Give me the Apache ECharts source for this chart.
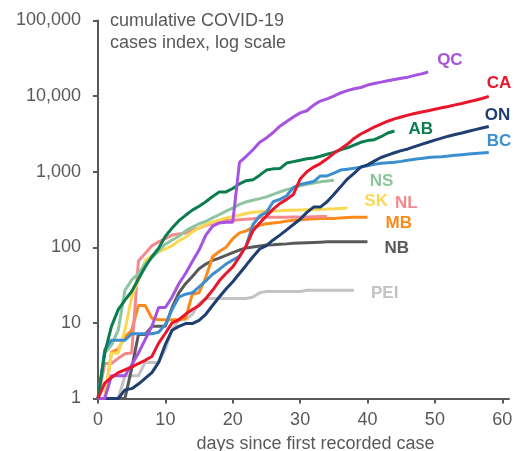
<!DOCTYPE html>
<html><head><meta charset="utf-8">
<script src="https://cdn.jsdelivr.net/npm/echarts@6/dist/echarts.min.js"></script>
<style>html,body{margin:0;padding:0;background:#fff}#c{width:517px;height:451px}</style>
</head><body><div id="c"></div>
<script>
// tick labels
const xTicks = [0, 10, 20, 30, 40, 50, 60];
const yTicks = [1, 10, 100, 1000, 10000, 100000];

// series: cumulative cases index by day since first recorded case
const QC = [1,1,2,2,2,2.8,4,6,9,16,16,22,33,45,65,92,145,190,210,215,215,1330,1600,1950,2450,2800,3300,4000,4600,5300,6000,6400,7600,8600,9200,10000,11000,11800,12500,13000,14000,14700,15300,16000,16600,17200,17800,18800,19700,20800];
const CA = [1,1.6,1.9,2.2,2.4,2.6,2.9,3.2,3.6,5.4,7.3,10,11,13,15,17,21,27,36,45,55,75,105,165,210,260,320,380,430,500,800,1000,1150,1280,1480,1750,2000,2300,2750,3150,3500,3900,4250,4650,5000,5300,5600,5900,6150,6400,6700,7000,7300,7650,8000,8400,8800,9300,9900];
const ON = [1,1,1,1,1.3,1.35,1.55,1.85,2.2,3.0,5.2,8,9,9.8,9.8,10.8,13,17,22,28,35,45,58,75,95,105,125,145,170,200,235,290,340,340,400,500,630,800,950,1150,1230,1380,1540,1660,1780,1900,2000,2150,2300,2450,2620,2780,2950,3100,3250,3420,3600,3780,3970];
const BC = [1,4.4,5.9,5.9,5.9,7.2,7.2,7.2,7.2,7.5,9.5,15,22,24,25,30,36,44,51,60,68,76,105,200,260,290,400,430,480,620,680,710,740,880,880,960,1050,1080,1110,1150,1200,1250,1290,1310,1330,1370,1420,1460,1500,1540,1560,1580,1610,1650,1680,1710,1740,1770,1800];
const AB = [1,4,9,15,20,26,38,55,75,97,140,180,225,265,310,350,400,470,540,540,600,690,760,780,900,1050,1090,1100,1300,1360,1420,1480,1520,1600,1700,1800,1950,2070,2250,2450,2580,2650,2900,3250,3450];
const NS = [1,4,5.1,8,27,37,45,60,73,90,110,125,140,165,185,205,220,245,270,300,330,370,400,420,440,465,500,540,580,610,650,680,710,735,755,770];
const SK = [1,1,4,4,8,22,37,66,78,87,95,105,122,135,160,180,200,215,230,245,255,265,280,290,295,300,303,305,308,310,312,314,315,318,320,323,327,330];
const NL = [1,2.9,2.9,3.4,3.9,4,66,83,105,118,130,145,150,155,168,180,195,207,225,228,228,232,235,238,245,250,250,250,250,252,252,252,254,255,256];
const MB = [1,1,4.1,4.5,6.5,8,17,17,11.5,11,11,11,11,11.5,24,25,40,75,88,100,130,155,165,185,195,205,210,214,222,228,232,235,238,240,240,241,245,248,250,250,250];
const NB = [1,1,1,1,1,2.5,7,7,9,9,9,16,25,33,41,52,60,67,72,78,85,92,98,101,104,107,108,110,111,113,114,115,116,117,118,118,118,118,118,118,118];
const PEI = [1,1,1,1,2,2,2,3,3,3,4.5,8,11,11,13,18,21,21,21,21,21,21,21,22,25,26,26,26,26,26,26,27,27,27,27,27,27,27,27];

const names = ['PEI','NB','MB','NL','SK','NS','BC','ON','AB','QC','CA'];
const seriesData = [PEI, NB, MB, NL, SK, NS, BC, ON, AB, QC, CA];
const colors = ['#c3c3c3','#595959','#fb8a1b','#f4898d','#fbd853','#8cc59e','#3b8fcf','#1f3f73','#0b7d4f','#a653e2','#e9172c'];
const labelOffsets = [[17,3],[17,6],[18,6],[68,-13],[17,-7],[36,1],[-2,-11],[-4,-11],[14,-2],[9,-12],[-2,-13]];

const FONT = 'Liberation Sans, Arial, Helvetica, sans-serif';
const GREY = '#595959';

const chart = echarts.init(document.getElementById('c'), null, {renderer: 'canvas'});
chart.setOption({
  animation: false,
  backgroundColor: '#ffffff',
  title: {
    text: 'cumulative COVID-19\ncases index, log scale',
    left: 110, top: 10, padding: 0,
    textStyle: {fontFamily: FONT, fontSize: 18, fontWeight: 'normal', color: GREY, lineHeight: 22}
  },
  grid: {left: 98, right: 8, top: 20.5, bottom: 52.5, containLabel: false, outerBoundsMode: 'none'},
  xAxis: {
    type: 'value', min: 0, max: 61,
    name: 'days since first recorded case',
    nameLocation: 'middle', nameGap: 37,
    nameTextStyle: {fontFamily: FONT, fontSize: 18, color: GREY, padding: [0, 0, 0, 24]},
    axisLine: {show: true, lineStyle: {color: GREY, width: 2}},
    axisTick: {show: true, length: 5, lineStyle: {color: GREY, width: 2}, customValues: xTicks},
    axisLabel: {fontFamily: FONT, fontSize: 18, color: GREY, margin: 13, customValues: xTicks},
    splitLine: {show: false}
  },
  yAxis: {
    type: 'log', logBase: 10, min: 1, max: 100000,
    axisLine: {show: true, lineStyle: {color: GREY, width: 2}},
    axisTick: {show: true, length: 5, lineStyle: {color: GREY, width: 2}, customValues: yTicks},
    axisLabel: {fontFamily: FONT, fontSize: 18, color: GREY, margin: 17, customValues: yTicks,
      formatter: v => Number(v).toLocaleString('en-US')},
    splitLine: {show: false}
  },
  series: names.map((n, i) => ({
    name: n,
    type: 'line',
    showSymbol: false,
    symbol: 'none',
    smooth: false,
    data: seriesData[i].map((v, d) => [d, v]),
    lineStyle: {color: colors[i], width: 3},
    itemStyle: {color: colors[i]},
    endLabel: {
      show: true, formatter: n, distance: 0, offset: labelOffsets[i],
      align: 'left', verticalAlign: 'middle',
      fontFamily: FONT, fontSize: 17, fontWeight: 'bold', color: colors[i]
    },
    emphasis: {disabled: true}
  }))
});
</script></body></html>
